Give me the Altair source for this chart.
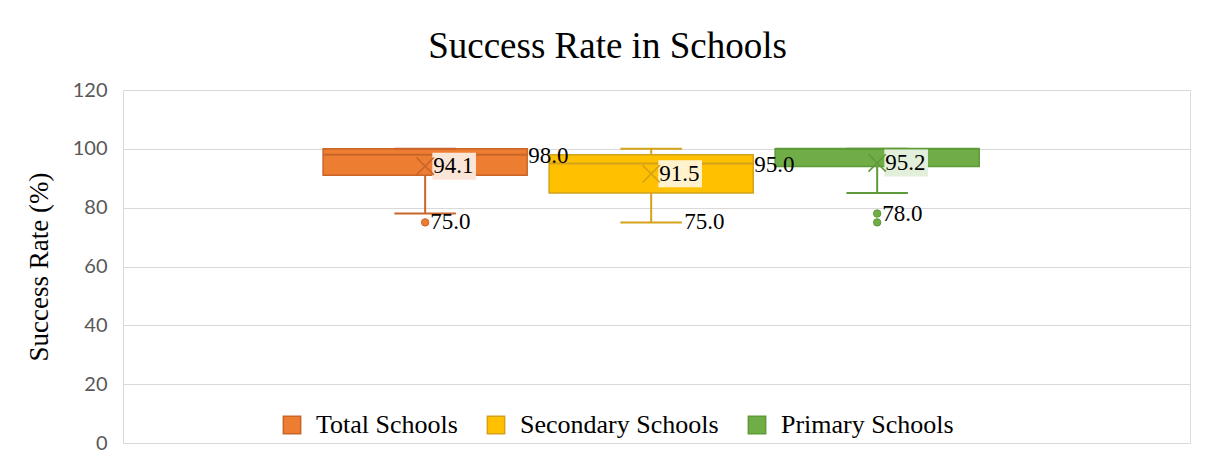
import altair as alt
import pandas as pd

# ---- data ----
series = ["Total Schools", "Secondary Schools", "Primary Schools"]
q1 = [91, 85, 94]
median = [98, 95, 100]
q3 = [100, 98, 100]
whisker_low = [78, 75, 85]
whisker_high = [100, 100, 100]
mean = [94.1, 91.5, 95.2]
median_labelled = [True, True, False]

outlier_series = ["Total Schools", "Primary Schools", "Primary Schools"]
outlier_values = [75, 78, 75]

low_label_series = ["Total Schools", "Secondary Schools", "Primary Schools"]
low_label_values = [75, 75, 78]
low_label_on_whisker = [False, True, False]

y_ticks = [0, 20, 40, 60, 80, 100, 120]

# ---- palette ----
fills = ["#ED7D31", "#FFC000", "#70AD47"]
darks = ["#C9652A", "#D4A21A", "#5E9A3A"]

stats = pd.DataFrame({
    "series": series, "q1": q1, "median": median, "q3": q3,
    "lo": whisker_low, "hi": whisker_high, "mean": mean,
    "med_lab": median_labelled,
})
outliers = pd.DataFrame({"series": outlier_series, "value": outlier_values})
lowlabs = pd.DataFrame({"series": low_label_series, "value": low_label_values,
                        "whisk": low_label_on_whisker})

xs = alt.X("series:N", sort=series, axis=None,
           scale=alt.Scale(domain=series, paddingInner=0.097, paddingOuter=0.909, align=0.487))
ysc = alt.Scale(domain=[0, 120], nice=False)
yaxis = alt.Axis(values=y_ticks, title="Success Rate (%)", grid=True, gridColor="#D9D9D9",
                 domainColor="#D9D9D9", ticks=False, labelPadding=16,
                 labelFont="Lato", labelFontSize=20, labelColor="#595959",
                 titleFont="Liberation Serif", titleFontSize=27, titleFontWeight="normal",
                 titleColor="black", titlePadding=19)

fill_scale = alt.Scale(domain=series, range=fills)
stroke_scale = alt.Scale(domain=series, range=darks)

legend = alt.Legend(
    orient="none", legendX=156, legendY=322, direction="horizontal",
    symbolType="square", symbolSize=300, symbolStrokeWidth=1.5,
    labelFont="Liberation Serif", labelFontSize=26, labelColor="black",
    labelOffset=11, columnPadding=25, labelLimit=400,
)

fill_enc = alt.Fill("series:N", scale=fill_scale, legend=legend, title="")
stroke_enc = alt.Stroke("series:N", scale=stroke_scale, legend=legend, title="")

base = alt.Chart(stats)

w_low = base.mark_rule(strokeWidth=2).encode(x=xs, y=alt.Y("lo:Q", scale=ysc, axis=yaxis), y2="q1:Q", stroke=stroke_enc)
w_high = base.mark_rule(strokeWidth=2).encode(x=xs, y=alt.Y("q3:Q", scale=ysc), y2="hi:Q", stroke=stroke_enc)
box = base.mark_bar(strokeWidth=1.5).encode(x=xs, y=alt.Y("q1:Q", scale=ysc), y2="q3:Q", fill=fill_enc, stroke=stroke_enc)
med = base.mark_bar(fillOpacity=0, strokeWidth=2).encode(x=xs, y=alt.Y("median:Q", scale=ysc), y2="median:Q", stroke=stroke_enc)
cap_low = base.mark_tick(orient="horizontal", size=60, thickness=0.5, strokeWidth=1.5, fillOpacity=0).encode(
    x=xs, y=alt.Y("lo:Q", scale=ysc), stroke=stroke_enc)
cap_high = base.mark_tick(orient="horizontal", size=60, thickness=0.5, strokeWidth=1.5, fillOpacity=0).encode(
    x=xs, y=alt.Y("hi:Q", scale=ysc), stroke=stroke_enc)

outl = alt.Chart(outliers).mark_point(shape="circle", filled=True, size=55, strokeWidth=1, opacity=1).encode(
    x=xs, y=alt.Y("value:Q", scale=ysc), fill=fill_enc, stroke=stroke_enc)

bg_shape = "M-1,-0.62H1V0.62H-1Z"
mean_bg_white = base.mark_point(shape=bg_shape, filled=True, size=1900, xOffset=29, opacity=1,
                                fill="white", strokeWidth=0).encode(
    x=xs, y=alt.Y("mean:Q", scale=ysc))
mean_bg = base.mark_point(shape=bg_shape, filled=True, size=1900, xOffset=29, fillOpacity=0.2,
                          strokeWidth=0).encode(
    x=xs, y=alt.Y("mean:Q", scale=ysc), fill=fill_enc)
mean_x = base.mark_point(shape="M-1,-1L1,1M-1,1L1,-1", filled=False, size=300, strokeWidth=1.6, opacity=1).encode(
    x=xs, y=alt.Y("mean:Q", scale=ysc), stroke=stroke_enc)

tfont = dict(font="Liberation Serif", fontSize=23, color="black", align="left", baseline="middle")
mean_txt = base.mark_text(dx=8, **tfont).encode(
    x=xs, y=alt.Y("mean:Q", scale=ysc), text=alt.Text("mean:Q", format=".1f"))
med_txt = base.transform_filter("datum.med_lab").mark_text(dx=103, dy=1, **tfont).encode(
    x=xs, y=alt.Y("median:Q", scale=ysc), text=alt.Text("median:Q", format=".1f"))
out_txt = alt.Chart(lowlabs).transform_filter("!datum.whisk").mark_text(dx=5, **tfont).encode(
    x=xs, y=alt.Y("value:Q", scale=ysc), text=alt.Text("value:Q", format=".1f"))
wh_txt = alt.Chart(lowlabs).transform_filter("datum.whisk").mark_text(dx=33, **tfont).encode(
    x=xs, y=alt.Y("value:Q", scale=ysc), text=alt.Text("value:Q", format=".1f"))

chart = alt.layer(
    w_low, w_high, box, med, cap_low, cap_high, outl, mean_bg_white, mean_bg, mean_x,
    mean_txt, med_txt, out_txt, wh_txt
).properties(
    width=1067, height=353,
    padding={"left": 115, "top": 82, "right": 7, "bottom": 17},
    autosize=alt.AutoSizeParams(type="none"),
    title=alt.TitleParams("Success Rate in Schools", font="Liberation Serif", fontSize=37,
                          fontWeight="normal", color="black", anchor="middle", dx=-49, offset=14),
).configure_view(strokeWidth=0).configure(background="white")

chart.save("out.html", embed_options={"renderer": "svg", "actions": False})
